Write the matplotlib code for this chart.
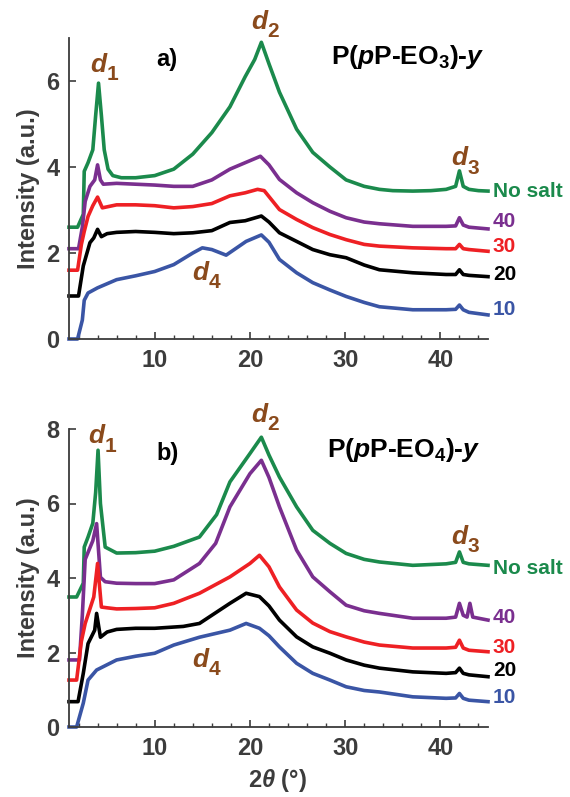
import matplotlib
matplotlib.use("Agg")
import matplotlib.pyplot as plt
from matplotlib.ticker import MultipleLocator

plt.rcParams["font.family"] = ["Liberation Sans", "DejaVu Sans"]
plt.rcParams["font.weight"] = "bold"
plt.rcParams["mathtext.fontset"] = "custom"
plt.rcParams["mathtext.rm"] = "Liberation Sans:bold"
plt.rcParams["mathtext.it"] = "Liberation Sans:italic:bold"
plt.rcParams["mathtext.bf"] = "Liberation Sans:bold"

GREEN = "#1b8a4c"
PURPLE = "#7a2f8f"
RED = "#ee2024"
BLACK = "#000000"
BLUE = "#3a55a5"
BROWN = "#8a4a1c"
GREY = "#3c3c3c"

# ---- panel a: P(pP-EO3)-y ----
a_nosalt_x = [1, 1.9, 2.5, 2.6, 3.0, 3.5, 3.8, 4.1, 4.4, 4.7, 5.1, 5.6, 6.5, 8, 10, 12, 14, 16, 17.9,
              19.5, 20.5, 21.2, 22.0, 23.1, 24.9, 26.6, 28.4, 30.1, 32, 33.6, 35, 37.1, 39, 40.6, 41.6,
              42.0, 42.4, 43, 44, 45]
a_nosalt_y = [2.6, 2.6, 2.9, 3.9, 4.1, 4.4, 5.2, 5.95, 5.2, 4.4, 3.95, 3.8, 3.75, 3.75, 3.8, 3.95, 4.3,
              4.8, 5.4, 6.1, 6.5, 6.9, 6.4, 5.74, 4.88, 4.34, 4.0, 3.7, 3.55, 3.48, 3.45, 3.44, 3.45, 3.48,
              3.55, 3.91, 3.55, 3.48, 3.45, 3.44]

a_40_x = [1, 2.0, 2.4, 2.7, 3.2, 3.7, 4.0, 4.3, 4.6, 6, 8, 10, 12, 14, 16, 17.9, 19.5, 21.1, 22, 23.1,
          24.9, 26.6, 28.4, 30.1, 32, 33.6, 37.1, 40.6, 41.6, 42.0, 42.4, 43, 45]
a_40_y = [2.1, 2.1, 2.6, 3.2, 3.55, 3.7, 4.05, 3.7, 3.6, 3.62, 3.6, 3.58, 3.55, 3.55, 3.7, 3.95, 4.1,
          4.25, 4.05, 3.71, 3.4, 3.17, 2.97, 2.82, 2.72, 2.68, 2.62, 2.62, 2.63, 2.82, 2.65, 2.6, 2.56]

a_30_x = [1, 1.9, 2.3, 2.6, 3.0, 3.5, 4.0, 4.5, 6, 8, 10, 12, 14, 16, 17.9, 19.5, 20.8, 21.5, 23.1,
          24.9, 26.6, 28.4, 30.1, 32, 33.6, 37.1, 40.6, 41.6, 42.0, 42.4, 43, 45]
a_30_y = [1.6, 1.6, 2.2, 2.5, 2.85, 3.1, 3.3, 3.05, 3.12, 3.12, 3.1, 3.05, 3.08, 3.15, 3.33, 3.4, 3.48,
          3.45, 3.01, 2.78, 2.59, 2.43, 2.31, 2.2, 2.16, 2.12, 2.1, 2.1, 2.2, 2.1, 2.08, 2.04]

a_20_x = [1, 2.0, 2.5, 3.2, 3.6, 4.0, 4.4, 5, 6, 8, 10, 12, 14, 16, 17.9, 19.5, 21.2, 22, 23.1, 24.9,
          26.6, 28.4, 30.1, 32, 33.6, 37.1, 40.6, 41.6, 42.0, 42.4, 43, 45]
a_20_y = [1.0, 1.0, 1.7, 2.24, 2.35, 2.55, 2.38, 2.45, 2.48, 2.5, 2.48, 2.45, 2.47, 2.52, 2.71, 2.75,
          2.86, 2.72, 2.47, 2.27, 2.08, 1.96, 1.89, 1.72, 1.61, 1.54, 1.5, 1.5, 1.61, 1.5, 1.48, 1.45]

a_10_x = [1, 1.9, 2.4, 2.6, 3.0, 4.0, 6, 8, 10, 12, 14, 15, 16, 17.5, 19.6, 21.2, 22, 23.1, 24.9, 26.6,
          28.4, 30.1, 32, 33.6, 37.1, 40.6, 41.6, 42.0, 42.4, 43, 45]
a_10_y = [0.0, 0.0, 0.44, 0.9, 1.07, 1.19, 1.38, 1.47, 1.57, 1.73, 2.0, 2.12, 2.08, 1.95, 2.27, 2.42,
          2.25, 1.85, 1.54, 1.31, 1.14, 0.99, 0.85, 0.75, 0.68, 0.68, 0.69, 0.79, 0.68, 0.62, 0.56]

# ---- panel b: P(pP-EO4)-y ----
b_nosalt_x = [1, 1.8, 2.5, 2.6, 3.0, 3.5, 3.8, 4.05, 4.3, 4.8, 6, 8, 10, 12, 14.7, 16.5, 17.9, 20,
              21.2, 22, 23.1, 24.9, 26.6, 28.4, 30.1, 32, 33.6, 37.1, 40.6, 41.6, 42.0, 42.4, 43, 45]
b_nosalt_y = [3.49, 3.49, 3.86, 4.83, 5.1, 5.47, 6.3, 7.43, 6.0, 4.83, 4.67, 4.68, 4.72, 4.85, 5.1, 5.7,
              6.58, 7.34, 7.78, 7.3, 6.71, 5.91, 5.28, 4.93, 4.66, 4.5, 4.43, 4.34, 4.38, 4.42, 4.7,
              4.42, 4.38, 4.34]

b_40_x = [1, 2.1, 2.4, 2.7, 3.5, 3.9, 4.3, 4.8, 6, 8, 10, 12, 14.7, 16.4, 17.9, 20, 21.2, 22, 23.1,
          24.9, 26.6, 28.4, 30.1, 32, 33.6, 37.1, 40.6, 41.6, 42.0, 42.4, 42.8, 43.1, 43.4, 45]
b_40_y = [1.8, 1.8, 3.0, 4.5, 5.0, 5.46, 4.02, 3.9, 3.86, 3.85, 3.85, 3.95, 4.39, 4.93, 5.91, 6.8, 7.16,
          6.7, 5.91, 4.75, 4.03, 3.63, 3.27, 3.12, 3.05, 2.92, 2.92, 2.95, 3.32, 3.0, 2.95, 3.32, 2.95, 2.87]

b_30_x = [1, 1.8, 2.3, 2.7, 3.6, 4.0, 4.4, 5, 6, 8, 10, 12, 14.7, 17.9, 20, 21.0, 22, 23.1, 24.9, 26.6,
          28.4, 30.1, 32, 33.6, 37.1, 40.6, 41.6, 42.0, 42.4, 43, 45]
b_30_y = [1.26, 1.26, 2.3, 2.78, 3.49, 4.39, 3.22, 3.2, 3.17, 3.18, 3.2, 3.32, 3.59, 4.03, 4.39, 4.61,
          4.3, 3.76, 3.14, 2.79, 2.56, 2.42, 2.28, 2.2, 2.12, 2.12, 2.14, 2.33, 2.12, 2.06, 2.02]

b_20_x = [1, 1.95, 2.5, 3.0, 3.7, 3.9, 4.3, 5, 6, 8, 10, 13, 14.7, 17.9, 19.6, 21.0, 22, 23.1, 24.9,
          26.6, 28.4, 30.1, 32, 33.6, 37.1, 40.6, 41.6, 42.0, 42.4, 43, 45]
b_20_y = [0.68, 0.68, 1.44, 2.24, 2.6, 3.05, 2.41, 2.55, 2.62, 2.65, 2.65, 2.7, 2.78, 3.32, 3.59, 3.5,
          3.25, 2.87, 2.42, 2.15, 1.98, 1.8, 1.66, 1.58, 1.48, 1.44, 1.46, 1.58, 1.44, 1.4, 1.35]

b_10_x = [1, 1.8, 2.5, 3.0, 3.9, 6, 8, 10, 12, 14.7, 17.9, 19.6, 21.0, 22, 23.1, 24.9, 26.6, 28.4,
          30.1, 32, 33.6, 37.1, 40.6, 41.6, 42.0, 42.4, 43, 45]
b_10_y = [0.0, 0.0, 0.64, 1.26, 1.53, 1.8, 1.9, 1.98, 2.2, 2.41, 2.6, 2.78, 2.65, 2.45, 2.15, 1.71, 1.44,
          1.26, 1.08, 0.98, 0.94, 0.81, 0.77, 0.78, 0.9, 0.77, 0.72, 0.68]

sample_labels = ["No salt", "40", "30", "20", "10"]
colors = [GREEN, PURPLE, RED, BLACK, BLUE]

panels = [
    {
        "pos": [69 / 570, 1 - 339 / 797, 419 / 570, 301 / 797],
        "ylim": (0, 7), "yticks": [0, 2, 4, 6],
        "curves": [(a_nosalt_x, a_nosalt_y), (a_40_x, a_40_y), (a_30_x, a_30_y),
                   (a_20_x, a_20_y), (a_10_x, a_10_y)],
        "label_y": [3.43, 2.73, 2.15, 1.5, 0.68],
        "tag": "a)", "tag_xy": (11.3, 6.5),
        "title": r"P($p$P-EO$_3$)-$y$", "title_xy": (36.6, 6.55),
        "d": [("1", 4.1, 6.38), ("2", 21.0, 7.38), ("3", 42.0, 4.2), ("4", 14.8, 1.53)],
    },
    {
        "pos": [69 / 570, 1 - 727 / 797, 419 / 570, 298 / 797],
        "ylim": (0, 8), "yticks": [0, 2, 4, 6, 8],
        "curves": [(b_nosalt_x, b_nosalt_y), (b_40_x, b_40_y), (b_30_x, b_30_y),
                   (b_20_x, b_20_y), (b_10_x, b_10_y)],
        "label_y": [4.26, 2.95, 2.14, 1.53, 0.78],
        "tag": "b)", "tag_xy": (11.4, 7.35),
        "title": r"P($p$P-EO$_4$)-$y$", "title_xy": (36.2, 7.44),
        "d": [("1", 3.9, 7.8), ("2", 21.0, 8.38), ("3", 42.0, 5.1), ("4", 14.8, 1.8)],
    },
]

fig = plt.figure(figsize=(5.7, 7.97), dpi=100)

for p in panels:
    ax = fig.add_axes(p["pos"])
    for (xs, ys), c in zip(p["curves"], colors):
        ax.plot(xs, ys, color=c, lw=2.6, solid_joinstyle="round", clip_on=False)
    for lab, ly, c in zip(sample_labels, p["label_y"], colors):
        ax.text(45.5, ly, lab, color=c, fontsize=15, fontweight="bold", va="center", ha="left",
                clip_on=False)
    ax.text(*p["tag_xy"], p["tag"], fontsize=17, fontweight="bold", ha="center", va="center")
    ax.text(*p["title_xy"], p["title"], fontsize=19, fontweight="bold", ha="center", va="center")
    # peak labels: italic d with a large subscript
    for sub, dx, dy in p["d"]:
        ax.text(dx, dy, "d", color=BROWN, fontsize=19, fontweight="bold", style="italic",
                ha="center", va="center", clip_on=False)
        ax.annotate(sub, (dx, dy), xytext=(10, -7), textcoords="offset points", color=BROWN,
                    fontsize=15, fontweight="bold", ha="center", va="center", annotation_clip=False)

    ax.set_xlim(1, 45)
    ax.set_ylim(*p["ylim"])
    ax.set_yticks(p["yticks"])
    ax.set_xticks([10, 20, 30, 40])
    ax.xaxis.set_minor_locator(MultipleLocator(2))
    for s in ["top", "right"]:
        ax.spines[s].set_visible(False)
    for s in ["left", "bottom"]:
        ax.spines[s].set_color(GREY)
        ax.spines[s].set_linewidth(1.3)
    ax.tick_params(axis="both", which="major", direction="in", length=5, width=1.2, color=GREY,
                   labelsize=17, labelcolor=GREY, pad=7)
    ax.tick_params(axis="x", which="minor", direction="in", length=3, width=1.0, color=GREY)
    for lbl in ax.get_xticklabels() + ax.get_yticklabels():
        lbl.set_fontweight("bold")
    ax.set_ylabel("Intensity (a.u.)", fontsize=17, fontweight="bold", color=GREY, labelpad=4)

fig.text(277 / 570, 1 - 780 / 797, r"$\mathit{2\theta}$ (°)", fontsize=17, fontweight="bold",
         color=GREY, ha="center", va="center")

fig.savefig("out.png", dpi=100)
